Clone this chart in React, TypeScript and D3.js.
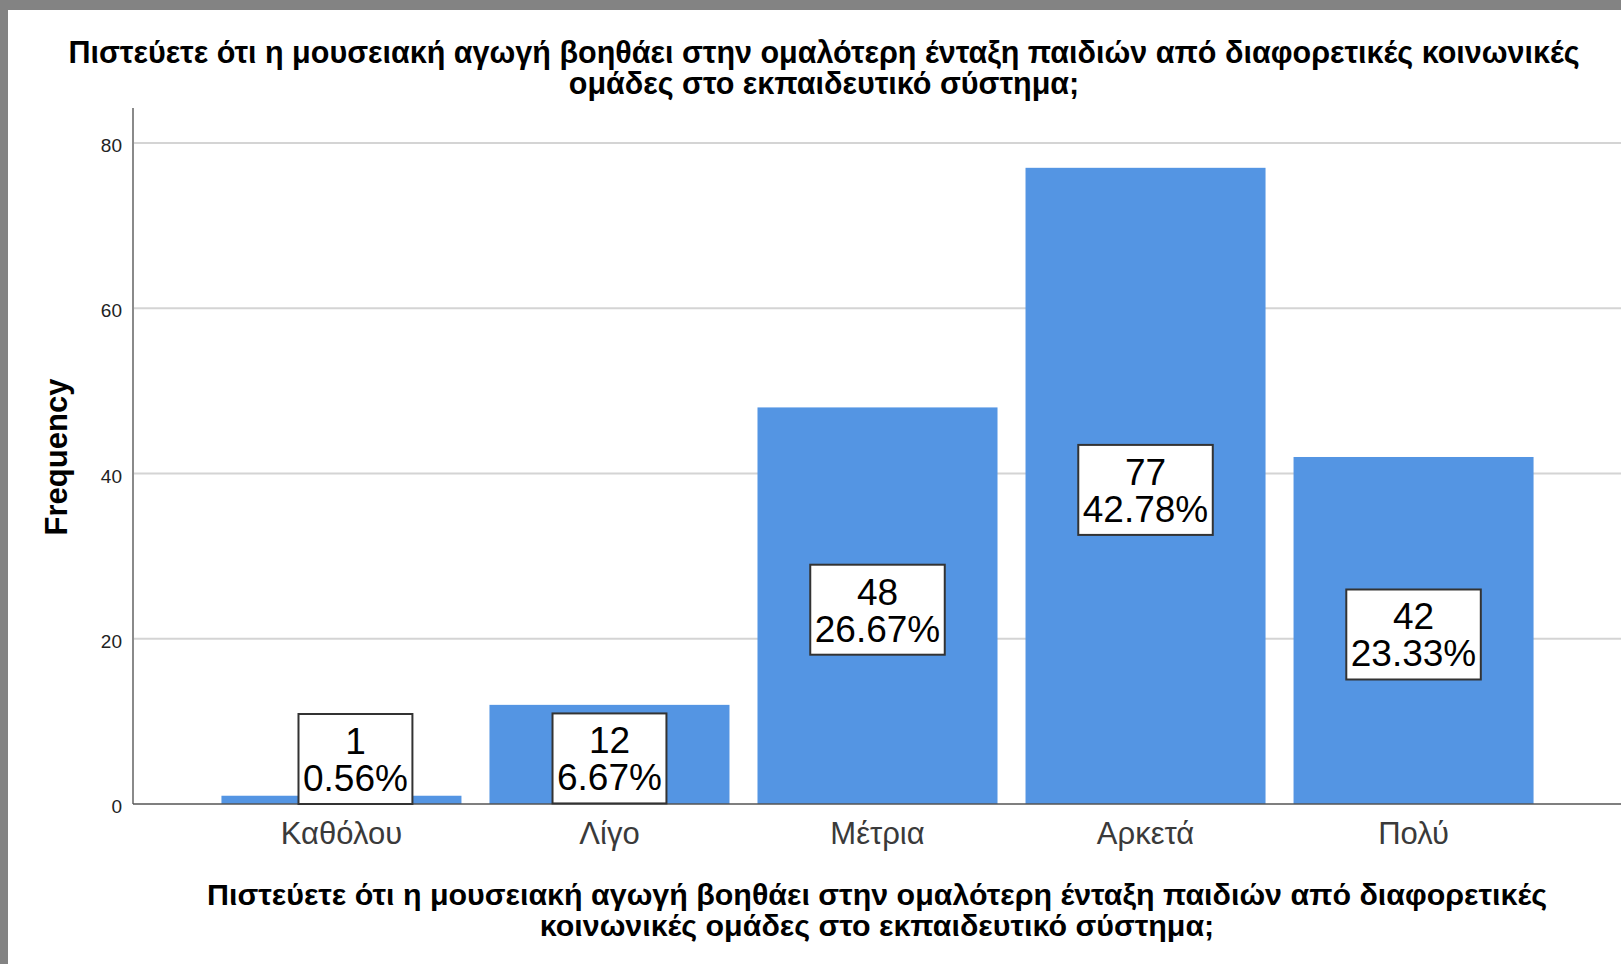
import React, { useEffect, useRef } from "react";
import * as d3 from "d3";

const categories = ["Καθόλου", "Λίγο", "Μέτρια", "Αρκετά", "Πολύ"];
const counts = [1, 12, 48, 77, 42];
const percents = ["0.56%", "6.67%", "26.67%", "42.78%", "23.33%"];
const yTicks = [0, 20, 40, 60, 80];
const titleLines = [
  "Πιστεύετε ότι η μουσειακή αγωγή βοηθάει στην ομαλότερη ένταξη παιδιών από διαφορετικές κοινωνικές",
  "ομάδες στο εκπαιδευτικό σύστημα;",
];
const xTitleLines = [
  "Πιστεύετε ότι η μουσειακή αγωγή βοηθάει στην ομαλότερη ένταξη παιδιών από διαφορετικές",
  "κοινωνικές ομάδες στο εκπαιδευτικό σύστημα;",
];
const yTitle = "Frequency";

const W = 1621;
const H = 964;
const FONT = "'Liberation Sans', Arial, sans-serif";

export default function App() {
  const ref = useRef<SVGSVGElement>(null);

  useEffect(() => {
    const svg = d3.select(ref.current);
    svg.selectAll("*").remove();

    // background
    svg.append("rect").attr("width", W).attr("height", H).attr("fill", "#ffffff");
    svg.append("rect").attr("x", 0).attr("y", 0).attr("width", W).attr("height", 10).attr("fill", "#838383");
    svg.append("rect").attr("x", 0).attr("y", 0).attr("width", 8).attr("height", H).attr("fill", "#838383");

    const x = d3.scaleBand<string>().domain(categories).range([133, 1622]).paddingInner(0.1045).paddingOuter(0.33);
    const y = d3.scaleLinear().domain([0, 84.24]).range([804, 108]);

    // gridlines
    svg.append("g").selectAll("line").data(yTicks.filter((t) => t > 0)).join("line")
      .attr("x1", 133).attr("x2", W)
      .attr("y1", (d) => y(d)).attr("y2", (d) => y(d))
      .attr("stroke", "#d4d4d4").attr("stroke-width", 2);

    // tick labels
    svg.append("g").selectAll("text").data(yTicks).join("text")
      .attr("x", 122).attr("y", (d) => y(d) + 9)
      .attr("text-anchor", "end").attr("font-family", FONT).attr("font-size", 19).attr("fill", "#222")
      .text((d) => String(d));

    // bars
    svg.append("g").selectAll("rect").data(counts).join("rect")
      .attr("x", (_, i) => x(categories[i])!)
      .attr("width", x.bandwidth())
      .attr("y", (d) => y(d))
      .attr("height", (d) => y(0) - y(d))
      .attr("fill", "#5495e3");

    // axes lines
    svg.append("line").attr("x1", 133).attr("x2", 133).attr("y1", y(84.24)).attr("y2", y(0))
      .attr("stroke", "#8a8a8a").attr("stroke-width", 2);
    svg.append("line").attr("x1", 133).attr("x2", W).attr("y1", y(0)).attr("y2", y(0))
      .attr("stroke", "#555").attr("stroke-width", 1.5);

    // category labels
    svg.append("g").selectAll("text").data(categories).join("text")
      .attr("x", (d) => x(d)! + x.bandwidth() / 2).attr("y", 844)
      .attr("text-anchor", "middle").attr("font-family", FONT).attr("font-size", 31).attr("fill", "#3a3a3a")
      .text((d) => d);

    // data labels
    const lg = svg.append("g");
    counts.forEach((c, i) => {
      const cx = x(categories[i])! + x.bandwidth() / 2 + (i === 0 ? 14 : 0);
      const g = lg.append("g");
      const rect = g.append("rect");
      const t1 = g.append("text").attr("x", cx).attr("text-anchor", "middle").attr("font-family", FONT)
        .attr("font-size", 37).attr("fill", "#000").text(String(c));
      const t2 = g.append("text").attr("x", cx).attr("text-anchor", "middle").attr("font-family", FONT)
        .attr("font-size", 37).attr("fill", "#000").text(percents[i]);
      const w1 = (t1.node() as SVGTextElement).getComputedTextLength();
      const w2 = (t2.node() as SVGTextElement).getComputedTextLength();
      const bw = Math.max(w1, w2) + 9;
      const bh = 90;
      const mid = (y(c) + y(0)) / 2 + 4;
      let top = mid - bh / 2;
      if (top + bh > y(0)) top = y(0) - bh;
      rect.attr("x", cx - bw / 2).attr("y", top).attr("width", bw).attr("height", bh)
        .attr("fill", "#fff").attr("stroke", "#333").attr("stroke-width", 2);
      t1.attr("y", top + 40);
      t2.attr("y", top + 77);
    });

    // title
    svg.append("g").selectAll("text").data(titleLines).join("text")
      .attr("x", 824).attr("y", (_, i) => 63 + i * 31)
      .attr("text-anchor", "middle").attr("font-family", FONT).attr("font-weight", "bold")
      .attr("font-size", 30.5).attr("fill", "#000").text((d) => d);

    // x title
    svg.append("g").selectAll("text").data(xTitleLines).join("text")
      .attr("x", 877).attr("y", (_, i) => 905 + i * 31)
      .attr("text-anchor", "middle").attr("font-family", FONT).attr("font-weight", "bold")
      .attr("font-size", 30.4).attr("fill", "#000").text((d) => d);

    // y title
    svg.append("text").attr("transform", "translate(67,457) rotate(-90)")
      .attr("text-anchor", "middle").attr("font-family", FONT).attr("font-weight", "bold")
      .attr("font-size", 31).attr("fill", "#000").text(yTitle);
  }, []);

  return (
    <div style={{ position: "absolute", left: 0, top: 0 }}>
      <svg ref={ref} width={W} height={H} style={{ display: "block" }} />
    </div>
  );
}
